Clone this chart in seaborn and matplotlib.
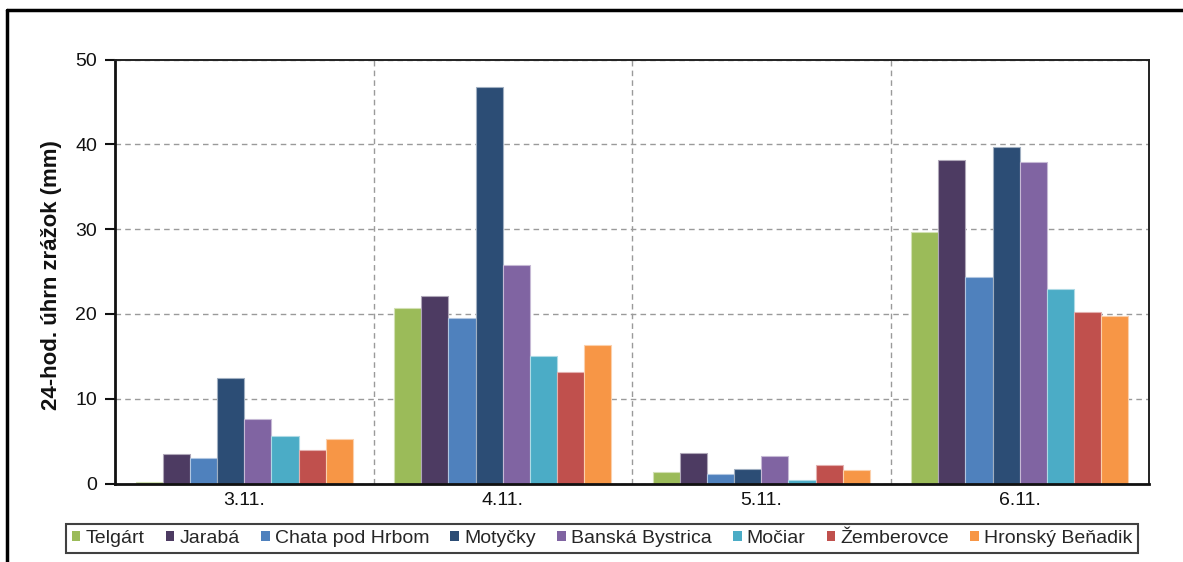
import matplotlib
matplotlib.use("Agg")
import matplotlib.pyplot as plt
from matplotlib.patches import Patch
from matplotlib.lines import Line2D
from matplotlib.colors import to_rgb
import seaborn as sns
import pandas as pd

# Daily precipitation totals (mm) per station
dates = ["3.11.", "4.11.", "5.11.", "6.11."]
stations = ["Telgárt", "Jarabá", "Chata pod Hrbom", "Motyčky",
            "Banská Bystrica", "Močiar", "Žemberovce", "Hronský Beňadik"]
telgart = [0.2, 20.7, 1.4, 29.6]
jaraba = [3.5, 22.1, 3.6, 38.2]
chata = [3.0, 19.5, 1.1, 24.3]
motycky = [12.4, 46.7, 1.7, 39.7]
banska = [7.6, 25.8, 3.2, 37.9]
mociar = [5.6, 15.0, 0.4, 22.9]
zemberovce = [3.9, 13.2, 2.2, 20.2]
benadik = [5.3, 16.3, 1.6, 19.7]
colors = ["#9BBB59", "#4D3B62", "#4F81BD", "#2C4D75",
          "#8064A2", "#4BACC6", "#C0504D", "#F79646"]

series = [telgart, jaraba, chata, motycky, banska, mociar, zemberovce, benadik]
rows = []
for st, vals in zip(stations, series):
    for d, v in zip(dates, vals):
        rows.append({"date": d, "station": st, "value": v})
df = pd.DataFrame(rows)

sns.set_style("white")
plt.rcParams["font.family"] = ["Liberation Sans", "DejaVu Sans"]

W, H = 1183, 562
fig = plt.figure(figsize=(W / 100, H / 100), dpi=100)
ax = fig.add_axes([115 / W, 1 - 483.5 / H, (1149 - 115) / W, (483.5 - 59.5) / H])

sns.barplot(data=df, x="date", y="value", hue="station", order=dates,
            hue_order=stations, palette=colors, width=0.84, saturation=1,
            gap=0, legend=False, ax=ax, errorbar=None)

# thin light outline on every bar
for p in ax.patches:
    r, g, b = to_rgb(p.get_facecolor())
    p.set_edgecolor((0.55 + 0.45 * r, 0.55 + 0.45 * g, 0.55 + 0.45 * b))
    p.set_linewidth(0.8)

ax.set_xlim(-0.5, 3.5)
ax.set_ylim(0, 50)
ax.set_yticks([0, 10, 20, 30, 40, 50])
ax.set_xlabel("")
ax.set_ylabel("")
fig.text(52 / W, 1 - 275 / H, "24-hod. úhrn zrážok (mm)", rotation=90,
         ha="center", va="center", fontsize=16, fontweight="bold",
         color="#111111")

ax.set_xticks([0.5, 1.5, 2.5], minor=True)
ax.grid(axis="y", which="major", color="#9a9a9a", linestyle=(0, (4, 3)), linewidth=1)
ax.grid(axis="x", which="minor", color="#9a9a9a", linestyle=(0, (4, 3)), linewidth=1)
ax.grid(axis="x", which="major", visible=False)
ax.set_axisbelow(True)

ax.tick_params(axis="y", which="major", length=7, width=1.5, direction="out",
               pad=6, labelsize=14, colors="#111111", left=True)
ax.tick_params(axis="x", which="both", length=0, pad=6, labelsize=14,
               colors="#111111")

for side in ["left", "bottom"]:
    ax.spines[side].set_linewidth(2)
    ax.spines[side].set_color("#111111")
for side in ["top", "right"]:
    ax.spines[side].set_linewidth(1.4)
    ax.spines[side].set_color("#222222")

handles = [Patch(facecolor=c, edgecolor="none", label=s)
           for c, s in zip(colors, stations)]
leg = fig.legend(handles=handles, loc="center", ncol=8,
                 bbox_to_anchor=(602 / W, 1 - 538.5 / H),
                 fontsize=14, frameon=True, fancybox=False,
                 handlelength=0.45, handleheight=0.45, handletextpad=0.25,
                 columnspacing=1.1, borderpad=0.3, borderaxespad=0)
leg.get_frame().set_edgecolor("#111111")
leg.get_frame().set_linewidth(1.5)

# chart area frame
fig.add_artist(Line2D([7 / W, 1.0], [1 - 10 / H, 1 - 10 / H],
                      transform=fig.transFigure, color="black", linewidth=2.5))
fig.add_artist(Line2D([7 / W, 7 / W], [1 - 10 / H, 0.0],
                      transform=fig.transFigure, color="black", linewidth=2.5))

fig.savefig("out.png", dpi=100)
